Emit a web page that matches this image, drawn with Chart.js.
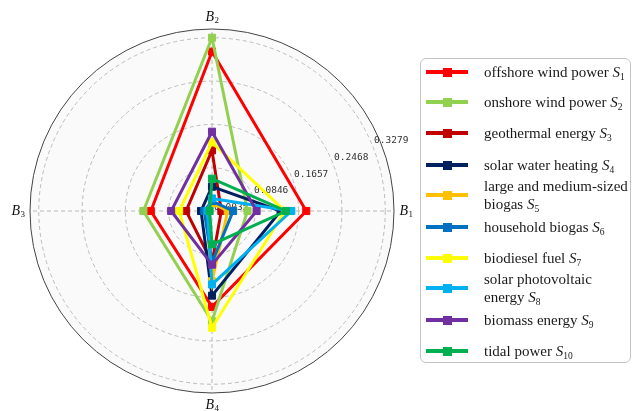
<!DOCTYPE html>
<html>
<head>
<meta charset="utf-8">
<script src="https://cdn.jsdelivr.net/npm/chart.js@4/dist/chart.umd.min.js"></script>
<style>
  html, body { margin: 0; padding: 0; background: #ffffff; }
  #wrap { position: relative; width: 635px; height: 411px; overflow: hidden; }
  #c { position: absolute; left: 0; top: 0; }
  #legend {
    position: absolute; left: 420px; top: 58px; width: 211px; height: 305px;
    border: 1px solid #c4c4c4; border-radius: 6px; background: #ffffff; box-sizing: border-box;
  }
  .item { position: absolute; left: 0; transform: translateY(-50%); display: flex; align-items: center; }
  .swatch { position: relative; width: 42px; height: 10px; margin-left: 5px; }
  .swatch .ln { position: absolute; left: 0; top: 3px; width: 42px; height: 4px; }
  .swatch .mk { position: absolute; left: 16.5px; top: 0.5px; width: 9px; height: 9px; }
  .txt { margin-left: 16px; font-family: "Liberation Serif", "Times New Roman", serif; font-size: 15px;
         color: #1a1a1a; line-height: 18px; white-space: pre-line; }
  .txt i { font-style: italic; }
  .txt sub { font-size: 9.5px; vertical-align: -3px; line-height: 0; }
</style>
</head>
<body>
<div id="wrap">
  <canvas id="c" width="635" height="411"></canvas>
  <div id="legend"></div>
</div>
<script>
// ---- data ----
const axisNames = ['B1', 'B2', 'B3', 'B4'];            // criteria (counter-clockwise from right)
const axisOrder = [1, 0, 3, 2];                         // Chart.js order clockwise from top: B2, B1, B4, B3
const tickValues = [0.0035, 0.0846, 0.1657, 0.2468, 0.3279];
const tickLabels = ['0.0035', '0.0846', '0.1657', '0.2468', '0.3279'];
const rMin = 0.0035;
const rMax = 0.3443;

const seriesNames = [
  'offshore wind power',
  'onshore wind power',
  'geothermal energy',
  'solar water heating',
  'large and medium-sized\nbiogas',
  'household biogas',
  'biodiesel fuel',
  'solar photovoltaic\nenergy',
  'biomass energy',
  'tidal power'
];
// values per series, in axis order B1, B2, B3, B4
const S1  = [0.180, 0.302, 0.118, 0.183];
const S2  = [0.070, 0.328, 0.132, 0.210];
const S3  = [0.021, 0.117, 0.052, 0.100];
const S4  = [0.132, 0.049, 0.024, 0.162];
const S5  = [0.033, 0.018, 0.014, 0.135];
const S6  = [0.043, 0.022, 0.018, 0.100];
const S7  = [0.140, 0.132, 0.065, 0.222];
const S8  = [0.152, 0.027, 0.012, 0.141];
const S9  = [0.087, 0.152, 0.080, 0.104];
const S10 = [0.142, 0.064, 0.008, 0.066];
const seriesValues = [S1, S2, S3, S4, S5, S6, S7, S8, S9, S10];

const colors = ['#FF0000', '#92D050', '#C00000', '#002060', '#FFC000',
                '#0070C0', '#FFFF00', '#00B0F0', '#7030A0', '#00B050'];

// ---- legend layout (row centre y inside page) ----
const legendRowY = [72, 102, 133, 165, 195, 227, 258, 288, 320, 351];

const legendEl = document.getElementById('legend');
seriesNames.forEach((name, i) => {
  const it = document.createElement('div');
  it.className = 'item';
  it.style.top = (legendRowY[i] - 59) + 'px';
  const sw = document.createElement('div');
  sw.className = 'swatch';
  sw.innerHTML = '<div class="ln" style="background:' + colors[i] + '"></div>' +
                 '<div class="mk" style="background:' + colors[i] + '"></div>';
  const tx = document.createElement('div');
  tx.className = 'txt';
  tx.appendChild(document.createTextNode(name + ' '));
  const s = document.createElement('i'); s.textContent = 'S'; tx.appendChild(s);
  const sb = document.createElement('sub'); sb.textContent = String(i + 1); tx.appendChild(sb);
  it.appendChild(sw); it.appendChild(tx);
  legendEl.appendChild(it);
});

// ---- overlay plugin: radial tick labels and axis names ----
const overlay = {
  id: 'overlay',
  beforeDatasetsDraw(chart) {
    const s = chart.scales.r;
    const ctx = chart.ctx;
    ctx.save();
    ctx.font = '9.5px "DejaVu Sans Mono", monospace';
    ctx.fillStyle = '#333333';
    ctx.textAlign = 'left';
    ctx.textBaseline = 'bottom';
    const a = -22.5 * Math.PI / 180;
    tickValues.forEach((v, i) => {
      const d = s.getDistanceFromCenterForValue(v);
      ctx.fillText(tickLabels[i], s.xCenter + d * Math.cos(a) + 2, s.yCenter + d * Math.sin(a) + 1);
    });
    axisOrder.forEach((src, idx) => {
      const p = s.getPointPosition(idx, s.drawingArea + 12);
      const name = axisNames[src];
      ctx.font = 'italic 14px "Liberation Serif", "Times New Roman", serif';
      const w1 = ctx.measureText(name[0]).width;
      ctx.font = '9px "Liberation Serif", "Times New Roman", serif';
      const w2 = ctx.measureText(name.slice(1)).width;
      const x0 = p.x - (w1 + w2) / 2;
      ctx.fillStyle = '#111111';
      ctx.textAlign = 'left';
      ctx.textBaseline = 'middle';
      ctx.font = 'italic 14px "Liberation Serif", "Times New Roman", serif';
      ctx.fillText(name[0], x0, p.y);
      ctx.font = '9px "Liberation Serif", "Times New Roman", serif';
      ctx.fillText(name.slice(1), x0 + w1 + 0.5, p.y + 4);
    });
    ctx.restore();
  }
};

const datasets = seriesValues.map((vals, i) => ({
  label: seriesNames[i],
  data: axisOrder.map(k => vals[k]),
  borderColor: colors[i],
  backgroundColor: colors[i],
  pointBackgroundColor: colors[i],
  pointBorderColor: colors[i],
  borderWidth: 3,
  pointStyle: 'rect',
  pointRadius: 5,
  pointBorderWidth: 1,
  fill: false,
  tension: 0,
  order: -i
}));

const ticksWithEdge = tickValues.concat([rMax]);

new Chart(document.getElementById('c'), {
  type: 'radar',
  data: { labels: axisOrder.map(k => axisNames[k]), datasets },
  options: {
    responsive: false,
    animation: false,
    layout: { padding: { left: 30, right: 240, top: 29, bottom: 17 } },
    plugins: { legend: { display: false }, tooltip: { enabled: false } },
    elements: { line: { tension: 0 } },
    scales: {
      r: {
        min: rMin,
        max: rMax,
        backgroundColor: '#fafafa',
        afterBuildTicks: (scale) => { scale.ticks = ticksWithEdge.map(v => ({ value: v })); },
        ticks: { display: false },
        pointLabels: { display: false },
        angleLines: { display: true, color: '#b8b8b8', lineWidth: 1, borderDash: [4, 3] },
        grid: {
          circular: true,
          color: (c) => c.index === ticksWithEdge.length - 1 ? '#444444' : '#bdbdbd',
          lineWidth: 1
        },
        border: {
          dash: (c) => c.index === ticksWithEdge.length - 1 ? [] : [4, 3]
        }
      }
    }
  },
  plugins: [overlay]
});
</script>
</body>
</html>
